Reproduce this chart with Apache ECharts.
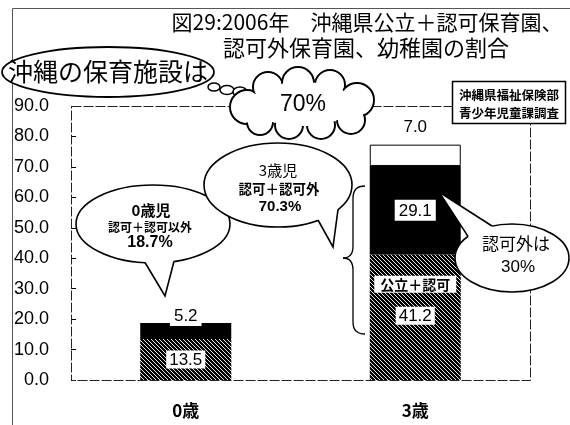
<!DOCTYPE html>
<html><head><meta charset="utf-8">
<script src="https://cdn.jsdelivr.net/npm/echarts@6/dist/echarts.min.js"></script>
<style>html,body{margin:0;padding:0;background:#fff}#c{width:570px;height:425px}</style>
</head><body><div id="c"></div>
<script>
// ---- data ----
const categories = ['0歳', '3歳'];
const publicLicensed = [13.5, 41.2];   // 公立＋認可
const unlicensed = [5.2, 29.1];        // 認可外
const kindergarten = [null, 7.0];      // 幼稚園
const segmentNotes = ['', '公立＋認可'];
const yMin = 0, yMax = 90, yInterval = 10;

const CJK = '"Noto Sans CJK JP", sans-serif';
const NUM = '"Liberation Sans", Arial, sans-serif';

function hatch() {
  const c = document.createElement('canvas');
  c.width = 4; c.height = 4;
  const g = c.getContext('2d');
  g.fillStyle = '#000'; g.fillRect(0, 0, 4, 4);
  g.strokeStyle = '#fff'; g.lineWidth = 0.9;
  g.beginPath();
  g.moveTo(-1, -1); g.lineTo(5, 5);
  g.moveTo(-1, 3); g.lineTo(1, 5);
  g.moveTo(3, -1); g.lineTo(5, 1);
  g.stroke();
  return c;
}

function txt(text, x, y, font, extra) {
  return Object.assign({
    type: 'text', z: 50,
    style: { text: text, x: x, y: y, font: font, fill: '#000',
      textAlign: 'center', textVerticalAlign: 'middle', align: 'center', verticalAlign: 'middle' }
  }, extra || {});
}

function bubble(cx, cy, rx, ry, b1, tip, b2, z) {
  const inner = p => [p[0] + (cx - p[0]) * 0.1, p[1] + (cy - p[1]) * 0.1];
  return [
    { type: 'ellipse', z: z, shape: { cx: cx, cy: cy, rx: rx, ry: ry }, style: { fill: '#fff', stroke: '#000', lineWidth: 1.6 } },
    { type: 'polygon', z: z + 1, shape: { points: [b1, tip, b2, inner(b2), inner(b1)] }, style: { fill: '#fff', stroke: null } },
    { type: 'polyline', z: z + 1, shape: { points: [b1, tip, b2] }, style: { fill: null, stroke: '#000', lineWidth: 1.6 } }
  ];
}

const cloudCircles = [
  [247, 107, 17], [268, 87, 15], [298, 83, 16], [330, 85, 15], [357, 100, 17],
  [351, 120, 14], [321, 125, 14], [289, 125, 14], [260, 122, 13]
];

const graphics = [];
// outer frame of the figure
graphics.push({ type: 'polyline', z: 1, shape: { points: [[12.5, 425], [12.5, 8.5], [570, 8.5]] }, style: { fill: null, stroke: '#555', lineWidth: 1 } });
// plot frame
graphics.push({ type: 'rect', z: 1, shape: { x: 71.5, y: 106.5, width: 459, height: 274 }, style: { fill: null, stroke: '#222', lineWidth: 1, lineDash: [10, 2] } });
// title
graphics.push(txt('図29:2006年　沖縄県公立＋認可保育園、', 367, 22, '21px ' + CJK));
graphics.push(txt('認可外保育園、幼稚園の割合', 366, 48, '22px ' + CJK));
// main ellipse
graphics.push({ type: 'ellipse', z: 20, shape: { cx: 108, cy: 72, rx: 106, ry: 25 }, style: { fill: '#fff', stroke: '#000', lineWidth: 1.8 } });
graphics.push(txt('沖縄の保育施設は', 108, 71, '25px ' + CJK));
// chain of small bubbles
[[214, 87, 6, 4], [227, 90, 7, 4.5], [240, 92, 7, 5]].forEach(b => {
  graphics.push({ type: 'ellipse', z: 21, shape: { cx: b[0], cy: b[1], rx: b[2], ry: b[3] }, style: { fill: '#fff', stroke: '#000', lineWidth: 1.5 } });
});
// cloud
cloudCircles.forEach(c => {
  graphics.push({ type: 'circle', z: 22, shape: { cx: c[0], cy: c[1], r: c[2] }, style: { fill: '#fff', stroke: '#000', lineWidth: 2 } });
});
cloudCircles.forEach(c => {
  graphics.push({ type: 'circle', z: 23, shape: { cx: c[0], cy: c[1], r: c[2] - 1.5 }, style: { fill: '#fff', stroke: null } });
});
graphics.push({ type: 'ellipse', z: 23, shape: { cx: 302, cy: 104, rx: 52, ry: 22 }, style: { fill: '#fff', stroke: null } });
graphics.push(txt('70%', 303, 105, '23px ' + NUM));
// source box
graphics.push({ type: 'rect', z: 20, shape: { x: 452.5, y: 81.5, width: 113, height: 42 }, style: { fill: '#fff', stroke: '#000', lineWidth: 1.5 } });
graphics.push(txt('沖縄県福祉保険部', 509, 95, 'bold 12.5px ' + CJK));
graphics.push(txt('青少年児童課調査', 509, 113, 'bold 12.5px ' + CJK));
// bubble 0歳
bubble(153, 224, 77, 39, [145, 262.5], [165, 296], [174, 261.3], 30).forEach(e => graphics.push(e));
graphics.push(txt('0歳児', 151, 210, 'bold 15px ' + CJK));
graphics.push(txt('認可＋認可以外', 150, 227, 'bold 12px ' + CJK));
graphics.push(txt('18.7%', 150, 243, 'bold 16px ' + NUM));
// bubble 3歳
bubble(278, 185, 74, 42, [318, 220], [333, 247], [338, 209.6], 30).forEach(e => graphics.push(e));
graphics.push(txt('3歳児', 278, 170, '15px ' + CJK));
graphics.push(txt('認可＋認可外', 279, 189, 'bold 13.5px ' + CJK));
graphics.push(txt('70.3%', 280, 207, 'bold 15px ' + NUM));
// bubble 認可外は30%
bubble(512, 258, 57, 34, [468, 236.4], [439, 192], [492, 226], 30).forEach(e => graphics.push(e));
graphics.push(txt('認可外は', 516, 244, '17px ' + CJK));
graphics.push(txt('30%', 518, 267, '17px ' + NUM));
// brace
const braceStyle = { fill: null, stroke: '#000', lineWidth: 1.3 };
graphics.push({ type: 'bezierCurve', z: 30, shape: { x1: 365, y1: 186, cpx1: 353, cpy1: 186, x2: 353, y2: 198 }, style: braceStyle });
graphics.push({ type: 'line', z: 30, shape: { x1: 353, y1: 198, x2: 353, y2: 246 }, style: braceStyle });
graphics.push({ type: 'bezierCurve', z: 30, shape: { x1: 353, y1: 246, cpx1: 353, cpy1: 258, x2: 343, y2: 258 }, style: braceStyle });
graphics.push({ type: 'bezierCurve', z: 30, shape: { x1: 343, y1: 258, cpx1: 353, cpy1: 258, x2: 353, y2: 270 }, style: braceStyle });
graphics.push({ type: 'line', z: 30, shape: { x1: 353, y1: 270, x2: 353, y2: 322 }, style: braceStyle });
graphics.push({ type: 'bezierCurve', z: 30, shape: { x1: 353, y1: 322, cpx1: 353, cpy1: 334, x2: 365, y2: 334 }, style: braceStyle });

const numBox = { backgroundColor: '#fff', color: '#000', fontSize: 17, fontFamily: NUM, padding: [1, 3, 0, 3] };

const chart = echarts.init(document.getElementById('c'), null, { renderer: 'canvas' });
chart.setOption({
  animation: false,
  backgroundColor: '#fff',
  grid: { left: 71, right: 40, top: 106, bottom: 45, containLabel: false },
  xAxis: {
    type: 'category', data: categories,
    axisLine: { show: false }, axisTick: { show: false },
    axisLabel: { color: '#000', fontSize: 17, fontWeight: 'bold', fontFamily: CJK, margin: 22 }
  },
  yAxis: {
    type: 'value', min: yMin, max: yMax, interval: yInterval,
    axisLine: { show: false },
    axisTick: { show: true, inside: true, length: 5, lineStyle: { color: '#000' } },
    splitLine: { show: false },
    axisLabel: { color: '#000', fontSize: 18, fontFamily: '"Liberation Sans Narrow", "Liberation Sans", Arial, sans-serif', margin: 22, formatter: v => v.toFixed(1) }
  },
  graphic: graphics,
  series: [
    {
      name: '公立＋認可', type: 'bar', stack: 't', barWidth: 91,
      itemStyle: { color: { image: hatch(), repeat: 'repeat' } },
      data: publicLicensed.map((v, i) => segmentNotes[i] ? { value: v, label: { offset: [0, -17] } } : v),
      label: {
        show: true, position: 'inside',
        formatter: p => (segmentNotes[p.dataIndex] ? '{a|' + segmentNotes[p.dataIndex] + '}\n{g|}\n' : '') + '{b|' + p.value.toFixed(1) + '}',
        rich: {
          a: { backgroundColor: '#fff', color: '#000', fontSize: 14, fontWeight: 'bold', fontFamily: CJK, padding: [2, 6, 1, 6] },
          g: { height: 14 },
          b: numBox
        }
      }
    },
    {
      name: '認可外', type: 'bar', stack: 't', barWidth: 91,
      itemStyle: { color: '#000' },
      data: unlicensed.map((v, i) => i === 0 ? { value: v, label: { position: 'top', offset: [0, 8] } } : v),
      label: {
        show: true, position: 'inside',
        formatter: p => '{b|' + p.value.toFixed(1) + '}',
        rich: { b: Object.assign({}, numBox, { padding: [3, 4, 1, 4] }) }
      }
    },
    {
      name: '幼稚園', type: 'bar', stack: 't', barWidth: 91,
      itemStyle: { color: '#fff', borderColor: '#000', borderWidth: 1 },
      data: kindergarten,
      label: {
        show: true, position: 'top', distance: 9, color: '#000', fontSize: 17, fontFamily: NUM,
        formatter: p => (p.value == null ? '' : p.value.toFixed(1))
      }
    }
  ]
});
</script>
</body></html>
